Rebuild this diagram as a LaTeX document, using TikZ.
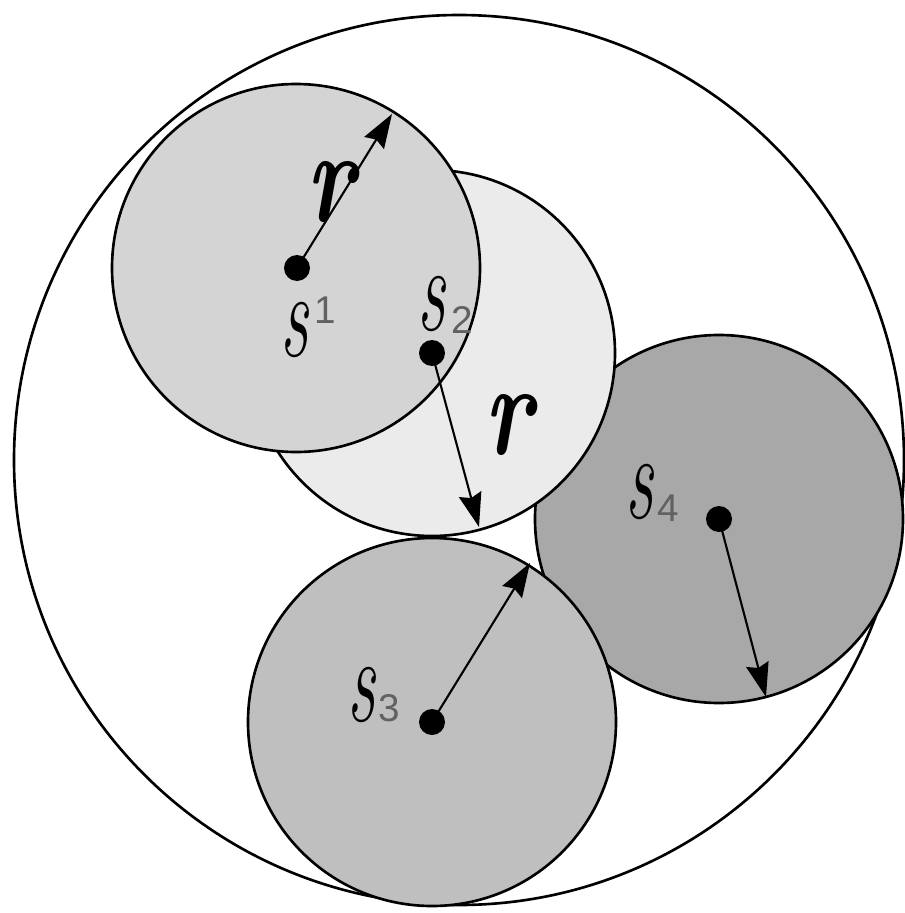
\documentclass[tikz,border=0pt]{standalone}
\usepackage{amsmath,tikz,graphicx}
\usepackage{fontspec}
\setsansfont{Liberation Sans}
\usetikzlibrary{arrows.meta}

\begin{document}
\begin{tikzpicture}[x={(0.02cm,0cm)},y={(0cm,-0.02cm)},>={Stealth[length=0.68cm,width=0.46cm,inset=0.08cm]},
  disc/.style={draw,line width=1.5pt},
  centre/.style={circle,fill,inner sep=0pt,minimum size=0.52cm},
  radial/.style={->,line width=1.2pt},
  letter/.style={inner sep=0pt,font=\itshape\fontsize{40}{40}\selectfont},
  index/.style={inner sep=0pt,text=black!62,font=\sffamily\fontsize{22}{22}\selectfont},
  rlab/.style={inner sep=0pt,font=\bfseries\itshape\fontsize{54}{54}\selectfont}]
\useasboundingbox (0,0) rectangle (904,913);
% Enclosing circle.
\draw[disc] (459,460) circle[radius=445];
% The four discs, back to front.
\fill[black!34] (719,519) circle[radius=184];
\draw[disc] (719,519) circle[radius=184];
\fill[black!25] (432,722) circle[radius=184];
\draw[disc] (432,722) circle[radius=184];
\fill[black!8] (432,353) circle[radius=183];
\draw[disc] (432,353) circle[radius=183];
\fill[black!17] (296,268) circle[radius=184];
\draw[disc] (296,268) circle[radius=184];
% Centres and radius arrows.
\foreach \i/\x/\y/\ex/\ey in {1/297/268/392/114,2/432/353/479/527,3/432/722/530/563,4/719/519/766/697}{
\node[centre] (c\i) at (\x,\y) {};
\coordinate (e\i) at (\ex,\ey);
\draw[radial] (c\i.center)--(e\i);}
% Labels.
\foreach \i/\sx/\sy/\nx/\ny in {1/295/330/325/310,2/432/304/462/320,3/362/695/389/708,4/640/492/668/508}{
\node[letter] (s\i) at (\sx,\sy) {\scalebox{1}[1.75]{s}};
\node[index] (n\i) at (\nx,\ny) {\i};}
\node[rlab] (r1) at (330,192) {\scalebox{1}[1.4]{r}};
\node[rlab] (r2) at (508,425) {\scalebox{1}[1.4]{r}};
\end{tikzpicture}
\end{document}
